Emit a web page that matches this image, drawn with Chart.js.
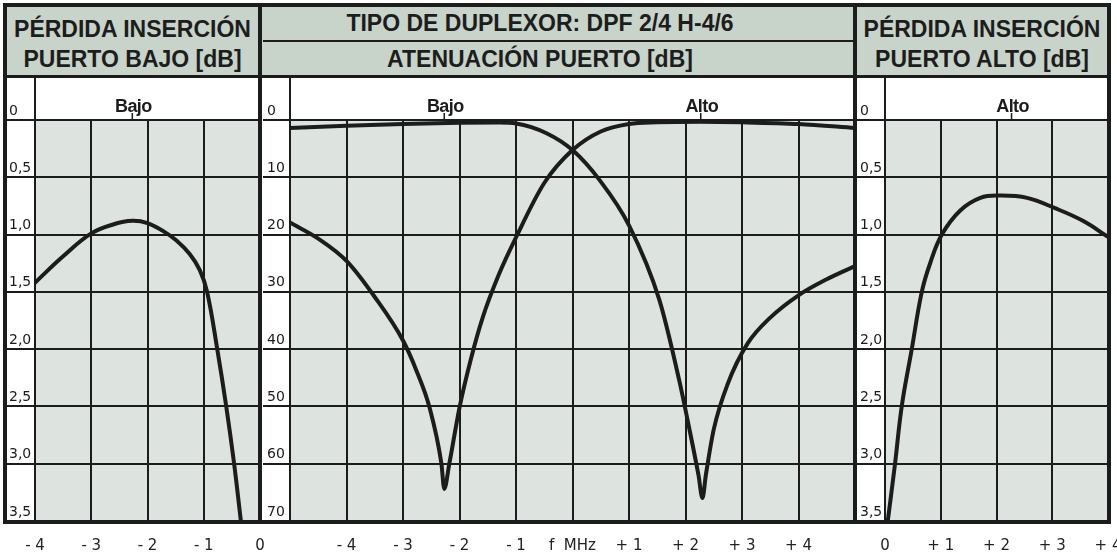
<!DOCTYPE html>
<html>
<head>
<meta charset="utf-8">
<script src="https://cdn.jsdelivr.net/npm/chart.js@4.4.1/dist/chart.umd.min.js"></script>
<style>
  html, body { margin: 0; padding: 0; background: #fff; }
  #page { position: relative; width: 1117px; height: 558px; overflow: hidden; }
  #page canvas { position: absolute; left: 0; top: 0; }
  .ov { position: absolute; pointer-events: none; }
  .ink { background: #1c1c1c; }
  .t { position: absolute; font: bold 23px "Liberation Sans", Arial, sans-serif; color: #1d1d1d;
       text-align: center; white-space: nowrap; height: 28px; line-height: 28px; }
</style>
</head>
<body>
<div id="page">
  <canvas id="cBajo" width="1117" height="558"></canvas>
  <canvas id="cAten" width="1117" height="558"></canvas>
  <canvas id="cAlto" width="1117" height="558"></canvas>

  <div class="ov" style="left:7px;top:7px;width:1100px;height:69px;background:#c8d3ca"></div>
  <div class="t" style="left:7px;top:15px;width:251px">PÉRDIDA INSERCIÓN</div>
  <div class="t" style="left:7px;top:45px;width:251px">PUERTO BAJO [dB]</div>
  <div class="t" style="left:263px;top:9px;width:554px">TIPO DE DUPLEXOR: DPF 2/4 H-4/6</div>
  <div class="t" style="left:263px;top:45px;width:554px">ATENUACIÓN PUERTO [dB]</div>
  <div class="t" style="left:857px;top:15px;width:250px">PÉRDIDA INSERCIÓN</div>
  <div class="t" style="left:857px;top:45px;width:250px">PUERTO ALTO [dB]</div>

  <div class="ov ink" style="left:263px;top:40px;width:590px;height:2px"></div>
  <div class="ov ink" style="left:3px;top:75px;width:1108px;height:3px"></div>
  <div class="ov ink" style="left:258px;top:3px;width:4px;height:521px"></div>
  <div class="ov ink" style="left:853px;top:3px;width:4px;height:521px"></div>
  <div class="ov" style="left:3px;top:3px;width:1108px;height:521px;border:4px solid #1c1c1c;box-sizing:border-box"></div>
</div>

<script>
// ticks
const lossTicks = [0, 0.5, 1, 1.5, 2, 2.5, 3, 3.5];
const atenTicks = [0, 10, 20, 30, 40, 50, 60, 70];
const bajoFreqTicks = [-4, -3, -2, -1, 0];
const bajoFreqLabels = ["- 4", "- 3", "- 2", "- 1", "0"];
const atenFreqTicks = [-5, -4, -3, -2, -1, 0, 1, 2, 3, 4, 5];
const atenFreqLabels = ["", "- 4", "- 3", "- 2", "- 1", "f  MHz", "+ 1", "+ 2", "+ 3", "+ 4", ""];
const altoFreqTicks = [0, 1, 2, 3, 4];
const altoFreqLabels = ["0", "+ 1", "+ 2", "+ 3", "+ 4"];

// centre frequencies marked at the top of each panel (MHz)
const notchBajo = -2.27;
const notchAlto = 2.27;

// perdida de insercion, puerto bajo
const perdBajoFreq = [-4, -3.5, -3, -2.6, -2.27, -2, -1.72, -1.49, -1.25, -1.07, -0.94, -0.76, -0.6, -0.46, -0.34];
const perdBajoDb = [1.42, 1.19, 0.99, 0.91, 0.88, 0.9, 0.97, 1.05, 1.17, 1.31, 1.5, 2.0, 2.5, 3.0, 3.5];

// atenuacion puerto (two curves)
const atenBajoFreq = [-5, -4.5, -4, -3.5, -3, -2.76, -2.53, -2.32, -2.27, -2.18, -2, -1.8, -1.59, -1.3, -1, -0.5, 0, 0.5, 1, 1.5, 2.25, 3, 4, 5];
const atenBajoDb = [17.9, 20.7, 24.6, 30.9, 38.5, 43.8, 50.2, 60, 64.4, 60, 50.2, 41.8, 34.5, 26.9, 20.5, 11, 5.25, 2.0, 0.7, 0.4, 0.3, 0.4, 0.7, 1.4];
const atenAltoFreq = [-5, -4, -3, -2, -1.3, -1, -0.46, 0, 0.48, 1, 1.54, 1.89, 2.07, 2.23, 2.3, 2.36, 2.5, 2.75, 3.1, 3.5, 4, 4.5, 5];
const atenAltoDb = [1.4, 1.0, 0.7, 0.5, 0.45, 0.6, 2.3, 5.25, 10.5, 18.4, 31.5, 45.5, 54, 62, 66, 62, 54, 46, 39, 34.5, 30.6, 27.8, 25.5];

// perdida de insercion, puerto alto
const perdAltoFreq = [0.05, 0.18, 0.3, 0.48, 0.66, 0.81, 1.02, 1.35, 1.71, 2.06, 2.55, 3.05, 3.55, 4];
const perdAltoDb = [3.5, 3.0, 2.5, 2.0, 1.5, 1.25, 1.0, 0.79, 0.68, 0.66, 0.68, 0.77, 0.88, 1.02];

const INK = "#1c1c1c";
const PLOT_BG = "#dde4df";
const STRIP_TOP = 78;

const decor = {
    id: "decor",
    beforeDraw: function (chart) {
        const ctx = chart.ctx, a = chart.chartArea;
        ctx.save();
        ctx.fillStyle = PLOT_BG;
        ctx.fillRect(a.left, a.top, a.right - a.left, a.bottom - a.top);
        ctx.strokeStyle = INK;
        ctx.lineWidth = 2;
        ctx.beginPath();
        ctx.moveTo(a.left, STRIP_TOP);
        ctx.lineTo(a.left, a.top);
        ctx.stroke();
        ctx.restore();
    },
    afterDraw: function (chart, args, opts) {
        const ctx = chart.ctx, a = chart.chartArea, xs = chart.scales.x;
        ctx.save();
        ctx.fillStyle = INK;
        ctx.strokeStyle = INK;
        ctx.lineWidth = 1.5;
        ctx.font = 'bold 18px "Liberation Sans", Arial, sans-serif';
        ctx.letterSpacing = "-0.6px";
        ctx.textAlign = "center";
        ctx.textBaseline = "alphabetic";
        (opts.marks || []).forEach(function (m) {
            const px = xs.getPixelForValue(m.f);
            ctx.fillText(m.name, px + 1, a.top - 8);
            ctx.beginPath();
            ctx.moveTo(px, a.top - 7);
            ctx.lineTo(px, a.top);
            ctx.stroke();
        });
        ctx.restore();
    }
};

function makePanel(id, cfg) {
    const datasets = cfg.series.map(function (s) {
        return {
            data: s.f.map(function (f, i) { return { x: f, y: s.db[i] }; }),
            borderColor: INK,
            borderWidth: 4,
            pointRadius: 0,
            fill: false,
            cubicInterpolationMode: cfg.monotone ? "monotone" : "default",
            tension: 0.4,
            borderCapStyle: "round"
        };
    });
    return new Chart(document.getElementById(id), {
        type: "line",
        data: { datasets: datasets },
        options: {
            responsive: false,
            animation: false,
            events: [],
            layout: { padding: cfg.pad },
            plugins: {
                legend: { display: false },
                tooltip: { enabled: false },
                decor: { marks: cfg.marks }
            },
            scales: {
                x: {
                    type: "linear",
                    min: cfg.xTicks[0],
                    max: cfg.xTicks[cfg.xTicks.length - 1],
                    afterBuildTicks: function (s) { s.ticks = cfg.xTicks.map(function (v) { return { value: v }; }); },
                    afterFit: function (s) { s.height = 30; s.paddingLeft = 0; s.paddingRight = 0; },
                    grid: { color: INK, lineWidth: 2, drawTicks: false },
                    border: { display: false },
                    ticks: {
                        autoSkip: false,
                        maxRotation: 0,
                        padding: 16,
                        color: "#222",
                        font: { family: "DejaVu Sans", size: 15 },
                        callback: function (v, i) { return cfg.xLabels[i]; }
                    }
                },
                y: {
                    type: "linear",
                    reverse: true,
                    min: 0,
                    max: cfg.yTicks[cfg.yTicks.length - 1],
                    afterBuildTicks: function (s) { s.ticks = cfg.yTicks.map(function (v) { return { value: v }; }); },
                    afterFit: function (s) { s.width = cfg.yWidth; s.paddingTop = 0; s.paddingBottom = 0; },
                    grid: { color: INK, lineWidth: 2, drawTicks: true, tickLength: cfg.tickLen },
                    border: { display: false },
                    ticks: {
                        labelOffset: -9,
                        crossAlign: "far",
                        color: "#1a1a1a",
                        font: { family: "DejaVu Sans", size: 14 },
                        callback: cfg.yFmt
                    }
                }
            }
        },
        plugins: [decor]
    });
}

function fmtLoss(v) {
    return v === 0 ? "0" : v.toFixed(1).replace(".", ",");
}

makePanel("cBajo", {
    pad: { left: 9, right: 857, top: 120, bottom: 7 },
    yWidth: 26, tickLen: 28,
    xTicks: bajoFreqTicks, xLabels: bajoFreqLabels,
    yTicks: lossTicks, yFmt: fmtLoss,
    marks: [{ name: "Bajo", f: notchBajo }],
    series: [{ f: perdBajoFreq, db: perdBajoDb }]
});

makePanel("cAten", {
    pad: { left: 267, right: 262, top: 120, bottom: 7 },
    yWidth: 23, tickLen: 27,
    monotone: true,
    xTicks: atenFreqTicks, xLabels: atenFreqLabels,
    yTicks: atenTicks, yFmt: function (v) { return String(v); },
    marks: [{ name: "Bajo", f: notchBajo }, { name: "Alto", f: notchAlto }],
    series: [{ f: atenBajoFreq, db: atenBajoDb }, { f: atenAltoFreq, db: atenAltoDb }]
});

makePanel("cAlto", {
    pad: { left: 860, right: 9, top: 120, bottom: 7 },
    yWidth: 25, tickLen: 28,
    xTicks: altoFreqTicks, xLabels: altoFreqLabels,
    yTicks: lossTicks, yFmt: fmtLoss,
    marks: [{ name: "Alto", f: notchAlto }],
    series: [{ f: perdAltoFreq, db: perdAltoDb }]
});
</script>
</body>
</html>
